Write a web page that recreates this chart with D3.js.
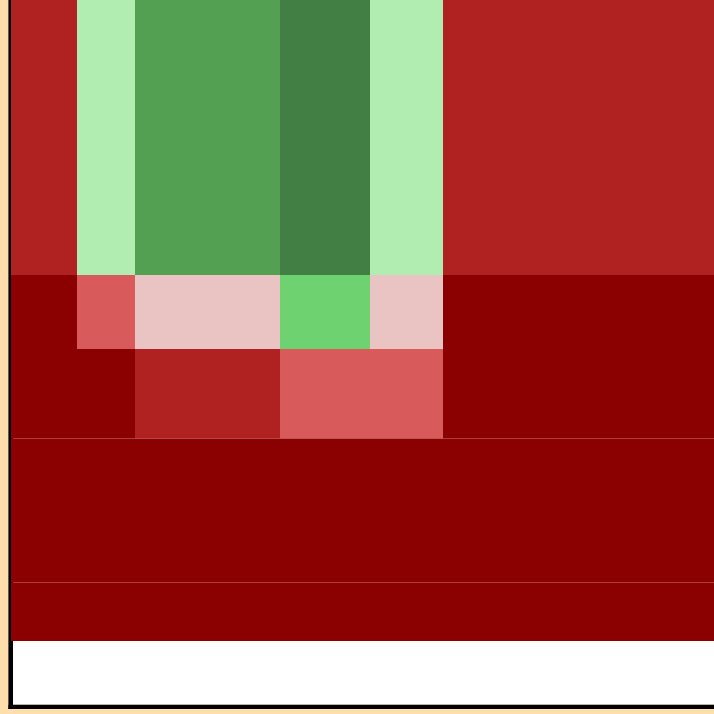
<!DOCTYPE html>
<html>
<head>
<meta charset="utf-8">
<script src="https://cdn.jsdelivr.net/npm/d3@7"></script>
<style>
  html, body { margin: 0; padding: 0; background: #FFDEAD; }
  svg { display: block; }
</style>
</head>
<body>
<svg id="chart" width="714" height="714"></svg>
<script>
// ---- data ----
const colEdges = [0, 66, 124, 269, 359, 432, 703];
const rowEdges = [0, 275, 349, 438.5, 582.5, 641];
const levels = [-4, -3, -2, -1, 1, 2, 3, 4];
const levelColors = ["#8B0000", "#B02222", "#D85A5A", "#EAC3C3", "#B1ECB1", "#6ED270", "#53A053", "#417F45"];
const row1 = [-3, 1, 3, 4, 1, -3];
const row2 = [-4, -2, -1, 2, -1, -4];
const row3 = [-4, -4, -3, -2, -2, -4];
const row4 = [-4, -4, -4, -4, -4, -4];
const row5 = [-4, -4, -4, -4, -4, -4];
const values = [row1, row2, row3, row4, row5];

// ---- drawing ----
const svg = d3.select("#chart");
const W = 714, H = 714;
const plotLeft = 11, plotBottom = 704.5;

const x = d3.scaleLinear().domain([0, 703]).range([plotLeft, W]);
const y = d3.scaleLinear().domain([0, 704.5]).range([0, plotBottom]);
const color = d3.scaleOrdinal().domain(levels).range(levelColors);

// plot background
svg.append("rect")
  .attr("x", plotLeft).attr("y", 0)
  .attr("width", W - plotLeft).attr("height", plotBottom)
  .attr("fill", "#ffffff");

// axes lines
svg.append("line")
  .attr("x1", 10.7).attr("x2", 10.7)
  .attr("y1", 0).attr("y2", 709)
  .attr("stroke", "#000").attr("stroke-width", 4.6);
svg.append("line")
  .attr("x1", 8.4).attr("x2", W)
  .attr("y1", 706.9).attr("y2", 706.9)
  .attr("stroke", "#000").attr("stroke-width", 4.4);

// cells
const cells = [];
values.forEach((row, ri) => {
  row.forEach((v, ci) => {
    cells.push({ r: ri, c: ci, v });
  });
});

svg.append("g").selectAll("rect")
  .data(cells)
  .join("rect")
  .attr("x", d => x(colEdges[d.c]))
  .attr("y", d => y(rowEdges[d.r]))
  .attr("width", d => x(colEdges[d.c + 1]) - x(colEdges[d.c]))
  .attr("height", d => y(rowEdges[d.r + 1]) - y(rowEdges[d.r]))
  .attr("fill", d => color(d.v));
</script>
</body>
</html>
